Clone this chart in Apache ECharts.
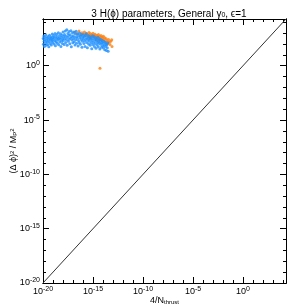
<!DOCTYPE html>
<html><head><meta charset="utf-8">
<script src="https://cdn.jsdelivr.net/npm/echarts@6/dist/echarts.min.js"></script>
<style>html,body{margin:0;padding:0;background:#fff}#c{width:305px;height:305px}</style>
</head><body><div id="c"></div>
<script>
var xMin = 1e-20, xMax = 2e4;
var yMin = 1e-20, yMax = 2e4;
var titleText = '3 H(\u03d5) parameters, General \u03b3{s|0}, \u03f5=1';
var xName = '4/N{s|thrust}';
var yName = '(\u0394 \u03d5){p|2} / M{s|P}{p|2}';
var diagonal = [[1e-20, 1e-20], [2e4, 2e4]];
var blue = [
[1.05e-20,320],[1.1e-20,95],[1.2e-20,540],[1.3e-20,180],[1.4e-20,60],[1.5e-20,260],[1.6e-20,410],[1.8e-20,130],[1.9e-20,700],[2.1e-20,75],[2.3e-20,220],[2.5e-20,380],[2.7e-20,150],[3e-20,90],[3.2e-20,500],[3.5e-20,280],[3.8e-20,55],[4.1e-20,170],[4.5e-20,640],[4.9e-20,340],[5.3e-20,110],[5.8e-20,230],[6.2e-20,450],[6.8e-20,80],[7.3e-20,300],[7.9e-20,190],[8.5e-20,850],[9.2e-20,140],[9.7e-20,420],
[1.05e-19,260],[1.15e-19,620],[1.25e-19,100],[1.35e-19,360],[1.5e-19,200],[1.6e-19,950],[1.75e-19,70],[1.9e-19,480],[2.05e-19,160],[2.2e-19,290],[2.4e-19,740],[2.6e-19,120],[2.85e-19,400],[3.1e-19,230],[3.4e-19,1100],[3.7e-19,85],[4e-19,330],[4.4e-19,560],[4.8e-19,150],[5.2e-19,270],[5.7e-19,880],[6.2e-19,60],[6.7e-19,420],[7.3e-19,190],[8e-19,650],[8.7e-19,110],[9.4e-19,300],
[1.02e-18,1300],[1.1e-18,210],[1.2e-18,480],[1.3e-18,90],[1.42e-18,760],[1.55e-18,320],[1.7e-18,1600],[1.85e-18,140],[2e-18,520],[2.2e-18,250],[2.4e-18,2000],[2.6e-18,75],[2.85e-18,390],[3.1e-18,940],[3.4e-18,175],[3.7e-18,600],[4e-18,1400],[4.4e-18,280],[4.8e-18,105],[5.2e-18,720],[5.7e-18,350],[6.2e-18,1700],[6.8e-18,55],[7.4e-18,460],[8.1e-18,230],[8.8e-18,1100],[9.5e-18,130],
[1.03e-17,560],[1.12e-17,300],[1.22e-17,1250],[1.33e-17,160],[1.45e-17,420],[1.58e-17,80],[1.72e-17,820],[1.88e-17,240],[2.05e-17,1500],[2.25e-17,120],[2.45e-17,480],[2.7e-17,330],[2.95e-17,900],[3.2e-17,65],[3.5e-17,210],[3.85e-17,620],[4.2e-17,140],[4.6e-17,1050],[5e-17,370],[5.5e-17,95],[6e-17,520],[6.6e-17,260],[7.2e-17,740],[7.9e-17,50],[8.6e-17,180],[9.4e-17,430],
[1.02e-16,300],[1.12e-16,700],[1.22e-16,110],[1.34e-16,450],[1.46e-16,200],[1.6e-16,60],[1.75e-16,560],[1.9e-16,270],[2.1e-16,900],[2.3e-16,140],[2.5e-16,380],[2.75e-16,45],[3e-16,230],[3.3e-16,620],[3.6e-16,100],[3.95e-16,330],[4.3e-16,180],[4.7e-16,500],[5.2e-16,75],[5.7e-16,270],[6.2e-16,400],[6.8e-16,130],[7.5e-16,36],[8.2e-16,210],[9e-16,560],[9.8e-16,90],
[1.05e-15,320],[1.15e-15,150],[1.26e-15,480],[1.38e-15,60],[1.5e-15,240],[1.65e-15,110],[1.8e-15,380],[1.98e-15,40],[2.15e-15,190],[2.35e-15,290],[2.6e-15,80],[2.85e-15,140],[3.1e-15,420],[3.4e-15,55],[3.75e-15,220],[4.1e-15,120],[4.5e-15,310],[4.9e-15,35],[5.4e-15,170],[5.9e-15,95],[6.5e-15,250],[7.1e-15,50],[7.8e-15,140],[8.5e-15,200],[9.3e-15,70],
[1.02e-14,120],[1.12e-14,42],[1.23e-14,180],[1.35e-14,75],[1.5e-14,30],[1.65e-14,140],[1.8e-14,60],[2e-14,100],[2.2e-14,25],[2.45e-14,85],[2.7e-14,45],[3e-14,130],[3.3e-14,22]
];
var orange = [
[1.5e-17,1200],[2.5e-17,900],[4e-17,1600],[6e-17,700],[8e-17,1100],[1.1e-16,850],[1.4e-16,1300],[1.8e-16,600],[2.2e-16,1000],[2.8e-16,750],[3.4e-16,480],[4e-16,1150],[4.8e-16,650],[5.6e-16,900],[6.5e-16,380],[7.5e-16,720],[8.8e-16,520],[1e-15,1000],[1.2e-15,650],[1.4e-15,420],[1.6e-15,800],[1.9e-15,560],[2.2e-15,330],[2.6e-15,620],[3e-15,450],[3.5e-15,750],[4e-15,280],[4.7e-15,520],[5.5e-15,380],[6.3e-15,600],[7.2e-15,250],[8.3e-15,440],[9.5e-15,320],[1.1e-14,520],[1.3e-14,230],[1.5e-14,380],[1.8e-14,160],[2.1e-14,300],[2.5e-14,200],[3e-14,110],[3.6e-14,260],[4.3e-14,150],[5e-14,90],[6e-14,180],[7.5e-14,240],[8e-14,60],[3.5e-15,180],[2e-15,240],[5e-16,320],[5e-15,0.6]
];

var FONT = 'Liberation Sans';
function expLabel(v) {
  var e = Math.round(Math.log10(v));
  if (e % 5 !== 0 || v > 1e4) return '';
  return '10{e|' + e + '}';
}
var labelRich = {
  e: { fontSize: 7, lineHeight: 7, verticalAlign: 'top', fontFamily: FONT, color: '#000' }
};
function mkAxis(isX, pos, major, showLabel) {
  var a = {
    type: 'log', logBase: 10, position: pos,
    min: isX ? xMin : yMin, max: isX ? xMax : yMax,
    interval: major ? 5 : 1,
    axisLine: { show: true, onZero: false, lineStyle: { color: '#000', width: 1 } },
    axisTick: { show: true, inside: true, length: major ? 6 : 3, lineStyle: { color: '#000', width: 1 } },
    splitLine: { show: false },
    axisLabel: { show: showLabel, formatter: expLabel, fontSize: 9, lineHeight: 12, fontFamily: FONT, color: '#000', margin: 3, showMaxLabel: false, rich: labelRich }
  };
  if (showLabel) {
    a.name = isX ? xName : yName;
    a.nameLocation = 'middle';
    a.nameGap = isX ? 13 : 25;
    a.nameMoveOverlap = false;
    a.nameTextStyle = { fontSize: 9, fontFamily: FONT, color: '#000',
      rich: { s: { fontSize: 6, verticalAlign: 'bottom', lineHeight: 6, fontFamily: FONT },
              p: { fontSize: 6, verticalAlign: 'top', lineHeight: 6, fontFamily: FONT } } };
  }
  return a;
}
var chart = echarts.init(document.getElementById('c'), null, { renderer: 'canvas' });
chart.setOption({
  animation: false,
  backgroundColor: '#fff',
  title: {
    text: titleText, left: 164, top: 4, textAlign: 'center',
    textStyle: { fontSize: 10, fontWeight: 'normal', fontFamily: FONT, color: '#000',
      rich: { s: { fontSize: 7, verticalAlign: 'bottom', lineHeight: 7, fontFamily: FONT } } }
  },
  grid: { left: 43, right: 19, top: 19, bottom: 22, containLabel: false, outerBoundsMode: 'none' },
  xAxis: [mkAxis(true, 'bottom', true, true), mkAxis(true, 'bottom', false, false),
          mkAxis(true, 'top', true, false), mkAxis(true, 'top', false, false)],
  yAxis: [mkAxis(false, 'left', true, true), mkAxis(false, 'left', false, false),
          mkAxis(false, 'right', true, false), mkAxis(false, 'right', false, false)],
  series: [
    { type: 'line', data: diagonal, symbol: 'none', lineStyle: { color: '#333', width: 1 }, z: 1 },
    { type: 'scatter', data: orange, symbol: 'circle', symbolSize: 3, itemStyle: { color: '#ff7f0e' }, z: 2 },
    { type: 'scatter', data: blue, symbol: 'circle', symbolSize: 3, itemStyle: { color: '#1e90ff' }, z: 3 }
  ]
});
</script></body></html>
